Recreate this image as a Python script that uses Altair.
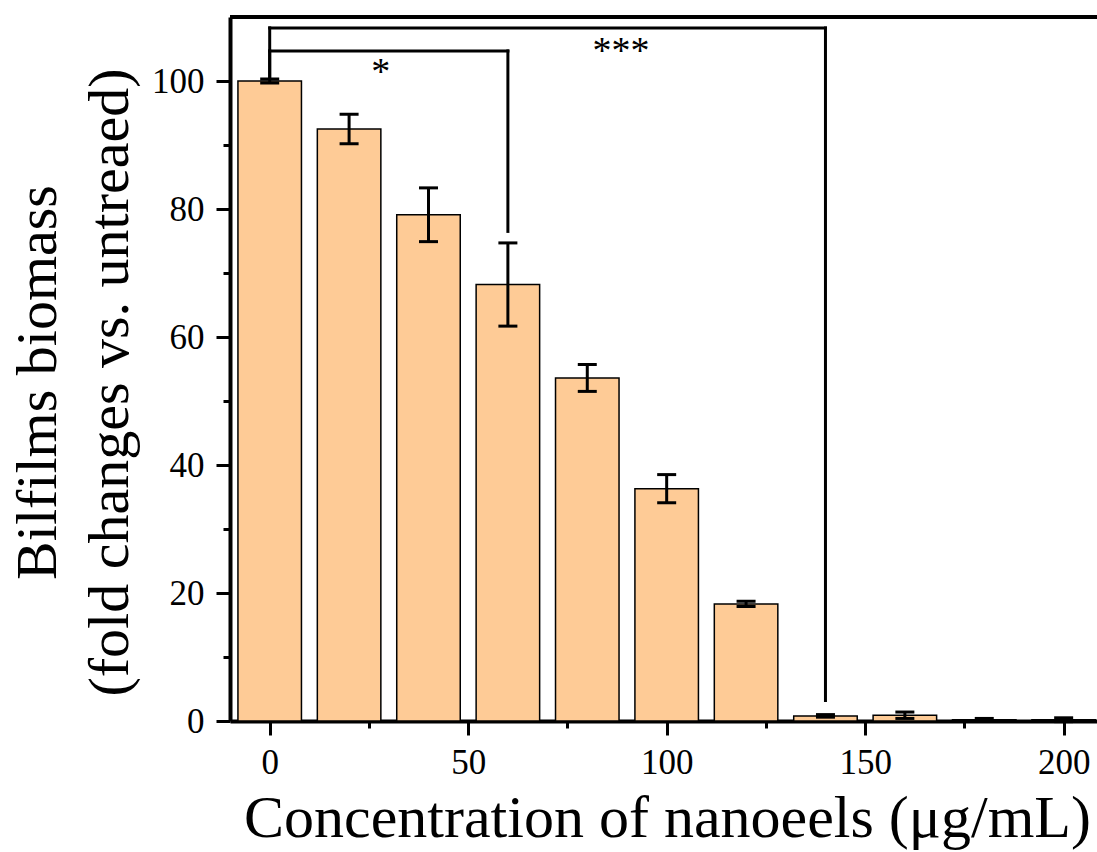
import altair as alt
import pandas as pd

# ---- data ----
conc = [0, 20, 40, 60, 80, 100, 120, 140, 160, 180, 200]
biomass = [100, 92.5, 79.1, 68.2, 53.6, 36.3, 18.3, 0.8, 0.9, 0.2, 0.2]
err = [0.3, 2.3, 4.2, 6.5, 2.1, 2.2, 0.4, 0.2, 0.5, 0.2, 0.3]

br_from = [0, 0]
br_to = [60, 140]
br_top = [104.7, 108.3]
br_left_end = [100.6, 100.6]
br_right_end = [76.5, 3.2]

star_text = ["*", "***"]
star_x = [28, 88.5]
star_y = [99.5, 102.8]

x_ticks = [0, 25, 50, 75, 100, 125, 150, 175, 200]
y_ticks = [0, 10, 20, 30, 40, 50, 60, 70, 80, 90, 100]

FONT = "Liberation Serif"
BAR_COLOR = "#FECB96"

df = pd.DataFrame({"conc": conc, "biomass": biomass, "err": err})
br = pd.DataFrame({"f": br_from, "t": br_to, "top": br_top,
                   "le": br_left_end, "re": br_right_end})
stars = pd.DataFrame({"label": star_text, "x": star_x, "y": star_y})

xscale = alt.Scale(domain=[-10, 208.4], nice=False, zero=False)
yscale = alt.Scale(domain=[0, 110], nice=False, zero=True)

xaxis = alt.Axis(
    values=x_ticks,
    labelExpr="datum.value % 50 == 0 ? datum.label : ''",
    tickSize={"condition": {"test": "datum.value % 50 == 0", "value": 14}, "value": 7},
    labelPadding=10,
    labelFlush=False,
    labelOverlap=False,
    title="Concentration of nanoeels (μg/mL)",
    titleX=437,
    titleY=115,
    titleAlign="center",
    titleBaseline="alphabetic",
    titleFontSize=60,
)
yaxis = alt.Axis(
    values=y_ticks,
    labelExpr="datum.value % 20 == 0 ? datum.label : ''",
    tickSize={"condition": {"test": "datum.value % 20 == 0", "value": 14}, "value": 7},
    labelPadding=12,
    labelFlush=False,
    labelOverlap=False,
    title=["Bilfilms biomass", "(fold changes vs. untreaed)"],
    titleAngle=270,
    titleX=-175,
    titleY=365,
    titleAlign="center",
    titleBaseline="alphabetic",
    titleLineHeight=72,
)

bars = alt.Chart(df).transform_calculate(
    x0="datum.conc - 8", x1="datum.conc + 8"
).mark_bar(color=BAR_COLOR, stroke="black", strokeWidth=1.5, opacity=1).encode(
    x=alt.X("x0:Q", scale=xscale, axis=xaxis),
    x2="x1:Q",
    y=alt.Y("biomass:Q", scale=yscale, axis=yaxis),
    y2=alt.datum(0),
)

eb = alt.Chart(df).transform_calculate(
    lo="datum.biomass - datum.err", hi="datum.biomass + datum.err"
)
err_rule = eb.mark_rule(strokeWidth=3, color="black", opacity=1).encode(
    x="conc:Q", y="lo:Q", y2="hi:Q"
)
cap_lo = eb.mark_tick(orient="horizontal", size=19, thickness=3, color="black", opacity=1).encode(
    x="conc:Q", y="lo:Q"
)
cap_hi = eb.mark_tick(orient="horizontal", size=19, thickness=3, color="black", opacity=1).encode(
    x="conc:Q", y="hi:Q"
)

top_border = alt.Chart(pd.DataFrame({"y": [110]})).mark_rule(
    strokeWidth=4, color="black"
).encode(y="y:Q", x=alt.datum(-10), x2=alt.datum(208.4))

br_h = alt.Chart(br).mark_rule(strokeWidth=3, color="black", strokeCap="square").encode(
    x="f:Q", x2="t:Q", y="top:Q"
)
br_l = alt.Chart(br).mark_rule(strokeWidth=3, color="black", strokeCap="square").encode(
    x="f:Q", y="le:Q", y2="top:Q"
)
br_r = alt.Chart(br).mark_rule(strokeWidth=3, color="black", strokeCap="square").encode(
    x="t:Q", y="re:Q", y2="top:Q"
)

star_marks = alt.Chart(stars).mark_text(
    font=FONT, fontSize=38, baseline="alphabetic", align="center", color="black"
).encode(x="x:Q", y="y:Q", text="label:N")

chart = alt.layer(
    bars, err_rule, cap_lo, cap_hi, top_border, br_h, br_l, br_r, star_marks
).properties(
    width=867,
    height=704,
    autosize=alt.AutoSizeParams(type="none"),
    padding={"left": 230, "top": 17, "right": 0, "bottom": 131},
).configure_view(stroke=None).configure_axis(
    grid=False,
    domainColor="black",
    domainWidth=4,
    tickColor="black",
    tickWidth=3,
    labelFont=FONT,
    labelFontSize=35,
    labelColor="black",
    titleFont=FONT,
    titleFontSize=58,
    titleFontWeight="normal",
    titleColor="black",
)

chart.save("out.html", embed_options={"renderer": "svg", "actions": False})
